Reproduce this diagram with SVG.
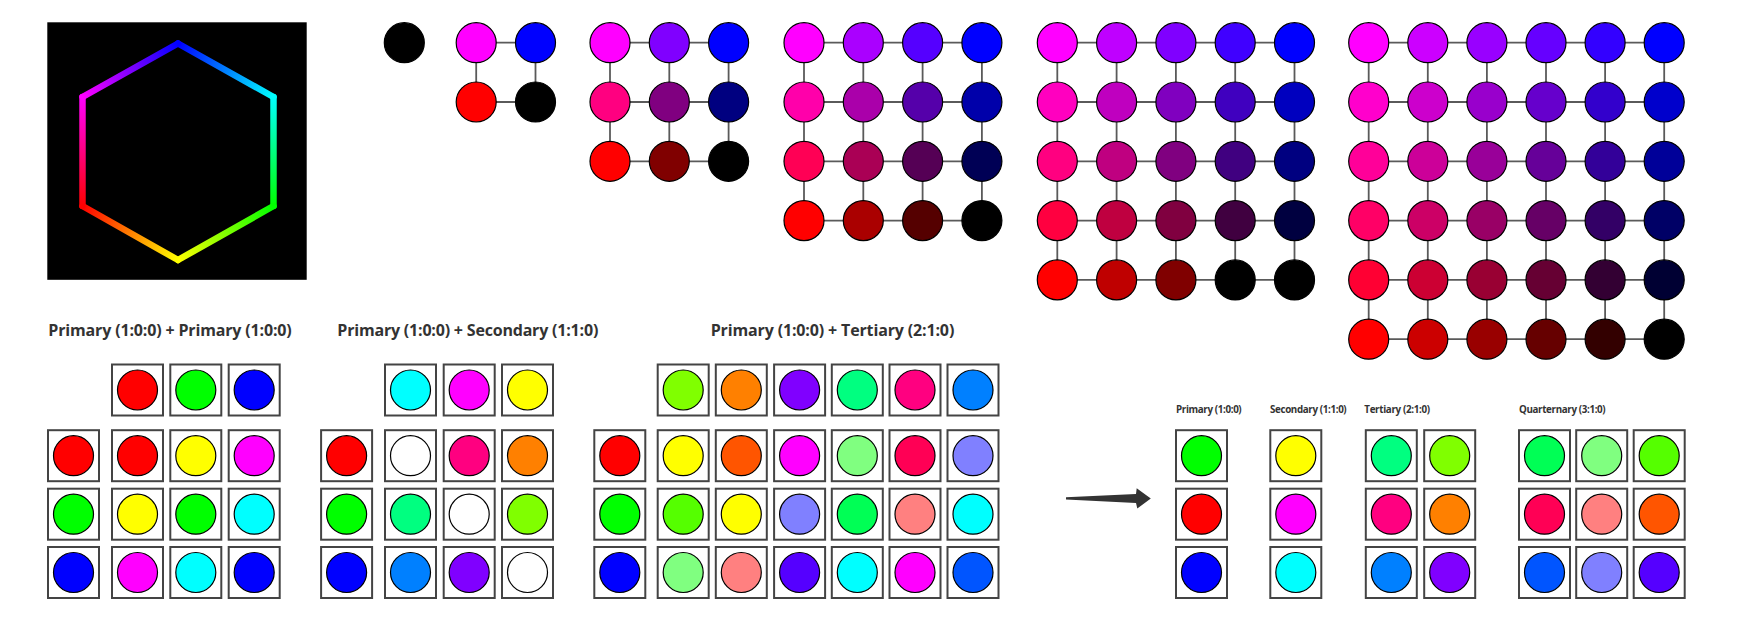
<svg xmlns="http://www.w3.org/2000/svg" width="1741" height="617" viewBox="0 0 1741 617">
<style>
.n{stroke:#000;stroke-width:1.2}
.e{stroke:#5a5a5a;stroke-width:1.8;fill:none}
.box{fill:#fff;stroke:#444;stroke-width:2}
.t{font-family:"Open Sans","Noto Sans","DejaVu Sans",sans-serif;font-weight:bold;fill:#333}
.tt{font-size:16px}
.ts{font-size:9.8px}
.hx{stroke-width:6.5;stroke-linecap:round;fill:none}
</style>
<defs>
<linearGradient id="h1" gradientUnits="userSpaceOnUse" x1="178" y1="43.5" x2="273.5" y2="97"><stop offset="0" stop-color="#00f"/><stop offset="1" stop-color="#0ff"/></linearGradient>
<linearGradient id="h2" gradientUnits="userSpaceOnUse" x1="273.5" y1="97" x2="273.5" y2="206"><stop offset="0" stop-color="#0ff"/><stop offset="1" stop-color="#0f0"/></linearGradient>
<linearGradient id="h3" gradientUnits="userSpaceOnUse" x1="273.5" y1="206" x2="178" y2="260"><stop offset="0" stop-color="#0f0"/><stop offset="1" stop-color="#ff0"/></linearGradient>
<linearGradient id="h4" gradientUnits="userSpaceOnUse" x1="178" y1="260" x2="82.5" y2="206"><stop offset="0" stop-color="#ff0"/><stop offset="1" stop-color="#f00"/></linearGradient>
<linearGradient id="h5" gradientUnits="userSpaceOnUse" x1="82.5" y1="206" x2="82.5" y2="97"><stop offset="0" stop-color="#f00"/><stop offset="1" stop-color="#f0f"/></linearGradient>
<linearGradient id="h6" gradientUnits="userSpaceOnUse" x1="82.5" y1="97" x2="178" y2="43.5"><stop offset="0" stop-color="#f0f"/><stop offset="1" stop-color="#00f"/></linearGradient>
<g id="bx"><rect class="box" x="-25.5" y="-25.5" width="51" height="51"/></g>
</defs>

<g id="hexagon">
<rect x="47.3" y="22.3" width="259.4" height="257.5" fill="#000"/>
<line class="hx" x1="178" y1="43.5" x2="273.5" y2="97" stroke="url(#h1)"/>
<line class="hx" x1="273.5" y1="97" x2="273.5" y2="206" stroke="url(#h2)"/>
<line class="hx" x1="273.5" y1="206" x2="178" y2="260" stroke="url(#h3)"/>
<line class="hx" x1="178" y1="260" x2="82.5" y2="206" stroke="url(#h4)"/>
<line class="hx" x1="82.5" y1="206" x2="82.5" y2="97" stroke="url(#h5)"/>
<line class="hx" x1="82.5" y1="97" x2="178" y2="43.5" stroke="url(#h6)"/>
</g>

<g id="connectors">
<line class="e" x1="476.2" y1="42.7" x2="535.5" y2="42.7"/>
<line class="e" x1="476.2" y1="102" x2="535.5" y2="102"/>
<line class="e" x1="476.2" y1="42.7" x2="476.2" y2="102"/>
<line class="e" x1="535.5" y1="42.7" x2="535.5" y2="102"/>
<line class="e" x1="610" y1="42.7" x2="728.6" y2="42.7"/>
<line class="e" x1="610" y1="102" x2="728.6" y2="102"/>
<line class="e" x1="610" y1="161.3" x2="728.6" y2="161.3"/>
<line class="e" x1="610" y1="42.7" x2="610" y2="161.3"/>
<line class="e" x1="669.3" y1="42.7" x2="669.3" y2="161.3"/>
<line class="e" x1="728.6" y1="42.7" x2="728.6" y2="161.3"/>
<line class="e" x1="804" y1="42.7" x2="981.9" y2="42.7"/>
<line class="e" x1="804" y1="102" x2="981.9" y2="102"/>
<line class="e" x1="804" y1="161.3" x2="981.9" y2="161.3"/>
<line class="e" x1="804" y1="220.6" x2="981.9" y2="220.6"/>
<line class="e" x1="804" y1="42.7" x2="804" y2="220.6"/>
<line class="e" x1="863.3" y1="42.7" x2="863.3" y2="220.6"/>
<line class="e" x1="922.6" y1="42.7" x2="922.6" y2="220.6"/>
<line class="e" x1="981.9" y1="42.7" x2="981.9" y2="220.6"/>
<line class="e" x1="1057.3" y1="42.7" x2="1294.5" y2="42.7"/>
<line class="e" x1="1057.3" y1="102" x2="1294.5" y2="102"/>
<line class="e" x1="1057.3" y1="161.3" x2="1294.5" y2="161.3"/>
<line class="e" x1="1057.3" y1="220.6" x2="1294.5" y2="220.6"/>
<line class="e" x1="1057.3" y1="279.9" x2="1294.5" y2="279.9"/>
<line class="e" x1="1057.3" y1="42.7" x2="1057.3" y2="279.9"/>
<line class="e" x1="1116.6" y1="42.7" x2="1116.6" y2="279.9"/>
<line class="e" x1="1175.9" y1="42.7" x2="1175.9" y2="279.9"/>
<line class="e" x1="1235.2" y1="42.7" x2="1235.2" y2="279.9"/>
<line class="e" x1="1294.5" y1="42.7" x2="1294.5" y2="279.9"/>
<line class="e" x1="1368.7" y1="42.7" x2="1664.2" y2="42.7"/>
<line class="e" x1="1368.7" y1="102" x2="1664.2" y2="102"/>
<line class="e" x1="1368.7" y1="161.3" x2="1664.2" y2="161.3"/>
<line class="e" x1="1368.7" y1="220.6" x2="1664.2" y2="220.6"/>
<line class="e" x1="1368.7" y1="279.9" x2="1664.2" y2="279.9"/>
<line class="e" x1="1368.7" y1="339.2" x2="1664.2" y2="339.2"/>
<line class="e" x1="1368.7" y1="42.7" x2="1368.7" y2="339.2"/>
<line class="e" x1="1427.8" y1="42.7" x2="1427.8" y2="339.2"/>
<line class="e" x1="1486.9" y1="42.7" x2="1486.9" y2="339.2"/>
<line class="e" x1="1546" y1="42.7" x2="1546" y2="339.2"/>
<line class="e" x1="1605.1" y1="42.7" x2="1605.1" y2="339.2"/>
<line class="e" x1="1664.2" y1="42.7" x2="1664.2" y2="339.2"/>
<polygon points="1066,497.3 1136,494 1136.7,488.2 1150.8,498.4 1137.3,508.5 1136,503 1066,499.6" fill="#333"/>
</g>

<g id="grid1"><circle class="n" cx="404.3" cy="42.7" r="20" fill="#000"/></g>

<g id="grid2">
<circle class="n" cx="476.2" cy="42.7" r="20" fill="#f0f"/>
<circle class="n" cx="535.5" cy="42.7" r="20" fill="#00f"/>
<circle class="n" cx="476.2" cy="102" r="20" fill="#f00"/>
<circle class="n" cx="535.5" cy="102" r="20" fill="#000"/>
</g>

<g id="grid3">
<circle class="n" cx="610" cy="42.7" r="20" fill="#ff00ff"/>
<circle class="n" cx="669.3" cy="42.7" r="20" fill="#8000ff"/>
<circle class="n" cx="728.6" cy="42.7" r="20" fill="#0000ff"/>
<circle class="n" cx="610" cy="102" r="20" fill="#ff0080"/>
<circle class="n" cx="669.3" cy="102" r="20" fill="#800080"/>
<circle class="n" cx="728.6" cy="102" r="20" fill="#000080"/>
<circle class="n" cx="610" cy="161.3" r="20" fill="#ff0000"/>
<circle class="n" cx="669.3" cy="161.3" r="20" fill="#800000"/>
<circle class="n" cx="728.6" cy="161.3" r="20" fill="#000000"/>
</g>

<g id="grid4">
<circle class="n" cx="804" cy="42.7" r="20" fill="#ff00ff"/>
<circle class="n" cx="863.3" cy="42.7" r="20" fill="#aa00ff"/>
<circle class="n" cx="922.6" cy="42.7" r="20" fill="#5500ff"/>
<circle class="n" cx="981.9" cy="42.7" r="20" fill="#0000ff"/>
<circle class="n" cx="804" cy="102" r="20" fill="#ff00aa"/>
<circle class="n" cx="863.3" cy="102" r="20" fill="#aa00aa"/>
<circle class="n" cx="922.6" cy="102" r="20" fill="#5500aa"/>
<circle class="n" cx="981.9" cy="102" r="20" fill="#0000aa"/>
<circle class="n" cx="804" cy="161.3" r="20" fill="#ff0055"/>
<circle class="n" cx="863.3" cy="161.3" r="20" fill="#aa0055"/>
<circle class="n" cx="922.6" cy="161.3" r="20" fill="#550055"/>
<circle class="n" cx="981.9" cy="161.3" r="20" fill="#000055"/>
<circle class="n" cx="804" cy="220.6" r="20" fill="#ff0000"/>
<circle class="n" cx="863.3" cy="220.6" r="20" fill="#aa0000"/>
<circle class="n" cx="922.6" cy="220.6" r="20" fill="#550000"/>
<circle class="n" cx="981.9" cy="220.6" r="20" fill="#000000"/>
</g>

<g id="grid5">
<circle class="n" cx="1057.3" cy="42.7" r="20" fill="#ff00ff"/>
<circle class="n" cx="1116.6" cy="42.7" r="20" fill="#bf00ff"/>
<circle class="n" cx="1175.9" cy="42.7" r="20" fill="#8000ff"/>
<circle class="n" cx="1235.2" cy="42.7" r="20" fill="#4000ff"/>
<circle class="n" cx="1294.5" cy="42.7" r="20" fill="#0000ff"/>
<circle class="n" cx="1057.3" cy="102" r="20" fill="#ff00bf"/>
<circle class="n" cx="1116.6" cy="102" r="20" fill="#bf00bf"/>
<circle class="n" cx="1175.9" cy="102" r="20" fill="#8000bf"/>
<circle class="n" cx="1235.2" cy="102" r="20" fill="#4000bf"/>
<circle class="n" cx="1294.5" cy="102" r="20" fill="#0000bf"/>
<circle class="n" cx="1057.3" cy="161.3" r="20" fill="#ff0080"/>
<circle class="n" cx="1116.6" cy="161.3" r="20" fill="#bf0080"/>
<circle class="n" cx="1175.9" cy="161.3" r="20" fill="#800080"/>
<circle class="n" cx="1235.2" cy="161.3" r="20" fill="#400080"/>
<circle class="n" cx="1294.5" cy="161.3" r="20" fill="#000080"/>
<circle class="n" cx="1057.3" cy="220.6" r="20" fill="#ff0040"/>
<circle class="n" cx="1116.6" cy="220.6" r="20" fill="#bf0040"/>
<circle class="n" cx="1175.9" cy="220.6" r="20" fill="#800040"/>
<circle class="n" cx="1235.2" cy="220.6" r="20" fill="#400040"/>
<circle class="n" cx="1294.5" cy="220.6" r="20" fill="#000040"/>
<circle class="n" cx="1057.3" cy="279.9" r="20" fill="#ff0000"/>
<circle class="n" cx="1116.6" cy="279.9" r="20" fill="#bf0000"/>
<circle class="n" cx="1175.9" cy="279.9" r="20" fill="#800000"/>
<circle class="n" cx="1235.2" cy="279.9" r="20" fill="#000000"/>
<circle class="n" cx="1294.5" cy="279.9" r="20" fill="#000000"/>
</g>

<g id="grid6">
<circle class="n" cx="1368.7" cy="42.7" r="20" fill="#ff00ff"/>
<circle class="n" cx="1427.8" cy="42.7" r="20" fill="#cc00ff"/>
<circle class="n" cx="1486.9" cy="42.7" r="20" fill="#9900ff"/>
<circle class="n" cx="1546" cy="42.7" r="20" fill="#6600ff"/>
<circle class="n" cx="1605.1" cy="42.7" r="20" fill="#3300ff"/>
<circle class="n" cx="1664.2" cy="42.7" r="20" fill="#0000ff"/>
<circle class="n" cx="1368.7" cy="102" r="20" fill="#ff00cc"/>
<circle class="n" cx="1427.8" cy="102" r="20" fill="#cc00cc"/>
<circle class="n" cx="1486.9" cy="102" r="20" fill="#9900cc"/>
<circle class="n" cx="1546" cy="102" r="20" fill="#6600cc"/>
<circle class="n" cx="1605.1" cy="102" r="20" fill="#3300cc"/>
<circle class="n" cx="1664.2" cy="102" r="20" fill="#0000cc"/>
<circle class="n" cx="1368.7" cy="161.3" r="20" fill="#ff0099"/>
<circle class="n" cx="1427.8" cy="161.3" r="20" fill="#cc0099"/>
<circle class="n" cx="1486.9" cy="161.3" r="20" fill="#990099"/>
<circle class="n" cx="1546" cy="161.3" r="20" fill="#660099"/>
<circle class="n" cx="1605.1" cy="161.3" r="20" fill="#330099"/>
<circle class="n" cx="1664.2" cy="161.3" r="20" fill="#000099"/>
<circle class="n" cx="1368.7" cy="220.6" r="20" fill="#ff0066"/>
<circle class="n" cx="1427.8" cy="220.6" r="20" fill="#cc0066"/>
<circle class="n" cx="1486.9" cy="220.6" r="20" fill="#990066"/>
<circle class="n" cx="1546" cy="220.6" r="20" fill="#660066"/>
<circle class="n" cx="1605.1" cy="220.6" r="20" fill="#330066"/>
<circle class="n" cx="1664.2" cy="220.6" r="20" fill="#000066"/>
<circle class="n" cx="1368.7" cy="279.9" r="20" fill="#ff0033"/>
<circle class="n" cx="1427.8" cy="279.9" r="20" fill="#cc0033"/>
<circle class="n" cx="1486.9" cy="279.9" r="20" fill="#990033"/>
<circle class="n" cx="1546" cy="279.9" r="20" fill="#660033"/>
<circle class="n" cx="1605.1" cy="279.9" r="20" fill="#330033"/>
<circle class="n" cx="1664.2" cy="279.9" r="20" fill="#000033"/>
<circle class="n" cx="1368.7" cy="339.2" r="20" fill="#ff0000"/>
<circle class="n" cx="1427.8" cy="339.2" r="20" fill="#cc0000"/>
<circle class="n" cx="1486.9" cy="339.2" r="20" fill="#990000"/>
<circle class="n" cx="1546" cy="339.2" r="20" fill="#660000"/>
<circle class="n" cx="1605.1" cy="339.2" r="20" fill="#330000"/>
<circle class="n" cx="1664.2" cy="339.2" r="20" fill="#000000"/>
</g>

<g id="labels">
<text class="t tt" x="48.3" y="336" textLength="243.4">Primary (1:0:0) + Primary (1:0:0)</text>
<text class="t tt" x="337.3" y="336" textLength="261">Primary (1:0:0) + Secondary (1:1:0)</text>
<text class="t tt" x="710.7" y="336" textLength="243.6">Primary (1:0:0) + Tertiary (2:1:0)</text>
<text class="t ts" x="1176" y="412.7" textLength="65.7">Primary (1:0:0)</text>
<text class="t ts" x="1270" y="412.7" textLength="76.7">Secondary (1:1:0)</text>
<text class="t ts" x="1364.3" y="412.7" textLength="65.7">Tertiary (2:1:0)</text>
<text class="t ts" x="1519" y="412.7" textLength="86.7">Quarternary (3:1:0)</text>
</g>

<g id="mix1">
<g id="m1-h0" transform="translate(137.5,390)"><use href="#bx"/><circle class="n" r="20" fill="#f00"/></g>
<g id="m1-h1" transform="translate(195.8,390)"><use href="#bx"/><circle class="n" r="20" fill="#0f0"/></g>
<g id="m1-h2" transform="translate(254.2,390)"><use href="#bx"/><circle class="n" r="20" fill="#00f"/></g>
<g id="m1-l0" transform="translate(73.5,455.7)"><use href="#bx"/><circle class="n" r="20" fill="#f00"/></g>
<g id="m1-l1" transform="translate(73.5,514.2)"><use href="#bx"/><circle class="n" r="20" fill="#0f0"/></g>
<g id="m1-l2" transform="translate(73.5,572.5)"><use href="#bx"/><circle class="n" r="20" fill="#00f"/></g>
<g id="m1-00" transform="translate(137.5,455.7)"><use href="#bx"/><circle class="n" r="20" fill="#f00"/></g>
<g id="m1-01" transform="translate(195.8,455.7)"><use href="#bx"/><circle class="n" r="20" fill="#ff0"/></g>
<g id="m1-02" transform="translate(254.2,455.7)"><use href="#bx"/><circle class="n" r="20" fill="#f0f"/></g>
<g id="m1-10" transform="translate(137.5,514.2)"><use href="#bx"/><circle class="n" r="20" fill="#ff0"/></g>
<g id="m1-11" transform="translate(195.8,514.2)"><use href="#bx"/><circle class="n" r="20" fill="#0f0"/></g>
<g id="m1-12" transform="translate(254.2,514.2)"><use href="#bx"/><circle class="n" r="20" fill="#0ff"/></g>
<g id="m1-20" transform="translate(137.5,572.5)"><use href="#bx"/><circle class="n" r="20" fill="#f0f"/></g>
<g id="m1-21" transform="translate(195.8,572.5)"><use href="#bx"/><circle class="n" r="20" fill="#0ff"/></g>
<g id="m1-22" transform="translate(254.2,572.5)"><use href="#bx"/><circle class="n" r="20" fill="#00f"/></g>
</g>

<g id="mix2">
<g id="m2-h0" transform="translate(410.5,390)"><use href="#bx"/><circle class="n" r="20" fill="#0ff"/></g>
<g id="m2-h1" transform="translate(469.2,390)"><use href="#bx"/><circle class="n" r="20" fill="#f0f"/></g>
<g id="m2-h2" transform="translate(527.5,390)"><use href="#bx"/><circle class="n" r="20" fill="#ff0"/></g>
<g id="m2-l0" transform="translate(346.6,455.7)"><use href="#bx"/><circle class="n" r="20" fill="#f00"/></g>
<g id="m2-l1" transform="translate(346.6,514.2)"><use href="#bx"/><circle class="n" r="20" fill="#0f0"/></g>
<g id="m2-l2" transform="translate(346.6,572.5)"><use href="#bx"/><circle class="n" r="20" fill="#00f"/></g>
<g id="m2-00" transform="translate(410.5,455.7)"><use href="#bx"/><circle class="n" r="20" fill="#fff"/></g>
<g id="m2-01" transform="translate(469.2,455.7)"><use href="#bx"/><circle class="n" r="20" fill="#ff0080"/></g>
<g id="m2-02" transform="translate(527.5,455.7)"><use href="#bx"/><circle class="n" r="20" fill="#ff8000"/></g>
<g id="m2-10" transform="translate(410.5,514.2)"><use href="#bx"/><circle class="n" r="20" fill="#00ff80"/></g>
<g id="m2-11" transform="translate(469.2,514.2)"><use href="#bx"/><circle class="n" r="20" fill="#fff"/></g>
<g id="m2-12" transform="translate(527.5,514.2)"><use href="#bx"/><circle class="n" r="20" fill="#80ff00"/></g>
<g id="m2-20" transform="translate(410.5,572.5)"><use href="#bx"/><circle class="n" r="20" fill="#0080ff"/></g>
<g id="m2-21" transform="translate(469.2,572.5)"><use href="#bx"/><circle class="n" r="20" fill="#8000ff"/></g>
<g id="m2-22" transform="translate(527.5,572.5)"><use href="#bx"/><circle class="n" r="20" fill="#fff"/></g>
</g>

<g id="mix3">
<g id="m3-h0" transform="translate(683.2,390)"><use href="#bx"/><circle class="n" r="20" fill="#80ff00"/></g>
<g id="m3-h1" transform="translate(741.3,390)"><use href="#bx"/><circle class="n" r="20" fill="#ff8000"/></g>
<g id="m3-h2" transform="translate(799.6,390)"><use href="#bx"/><circle class="n" r="20" fill="#8000ff"/></g>
<g id="m3-h3" transform="translate(857.3,390)"><use href="#bx"/><circle class="n" r="20" fill="#00ff80"/></g>
<g id="m3-h4" transform="translate(915,390)"><use href="#bx"/><circle class="n" r="20" fill="#ff0080"/></g>
<g id="m3-h5" transform="translate(973,390)"><use href="#bx"/><circle class="n" r="20" fill="#0080ff"/></g>
<g id="m3-l0" transform="translate(619.8,455.7)"><use href="#bx"/><circle class="n" r="20" fill="#f00"/></g>
<g id="m3-l1" transform="translate(619.8,514.2)"><use href="#bx"/><circle class="n" r="20" fill="#0f0"/></g>
<g id="m3-l2" transform="translate(619.8,572.5)"><use href="#bx"/><circle class="n" r="20" fill="#00f"/></g>
<g id="m3-00" transform="translate(683.2,455.7)"><use href="#bx"/><circle class="n" r="20" fill="#ffff00"/></g>
<g id="m3-01" transform="translate(741.3,455.7)"><use href="#bx"/><circle class="n" r="20" fill="#ff5500"/></g>
<g id="m3-02" transform="translate(799.6,455.7)"><use href="#bx"/><circle class="n" r="20" fill="#ff00ff"/></g>
<g id="m3-03" transform="translate(857.3,455.7)"><use href="#bx"/><circle class="n" r="20" fill="#80ff80"/></g>
<g id="m3-04" transform="translate(915,455.7)"><use href="#bx"/><circle class="n" r="20" fill="#ff0055"/></g>
<g id="m3-05" transform="translate(973,455.7)"><use href="#bx"/><circle class="n" r="20" fill="#8080ff"/></g>
<g id="m3-10" transform="translate(683.2,514.2)"><use href="#bx"/><circle class="n" r="20" fill="#55ff00"/></g>
<g id="m3-11" transform="translate(741.3,514.2)"><use href="#bx"/><circle class="n" r="20" fill="#ffff00"/></g>
<g id="m3-12" transform="translate(799.6,514.2)"><use href="#bx"/><circle class="n" r="20" fill="#8080ff"/></g>
<g id="m3-13" transform="translate(857.3,514.2)"><use href="#bx"/><circle class="n" r="20" fill="#00ff55"/></g>
<g id="m3-14" transform="translate(915,514.2)"><use href="#bx"/><circle class="n" r="20" fill="#ff8080"/></g>
<g id="m3-15" transform="translate(973,514.2)"><use href="#bx"/><circle class="n" r="20" fill="#00ffff"/></g>
<g id="m3-20" transform="translate(683.2,572.5)"><use href="#bx"/><circle class="n" r="20" fill="#80ff80"/></g>
<g id="m3-21" transform="translate(741.3,572.5)"><use href="#bx"/><circle class="n" r="20" fill="#ff8080"/></g>
<g id="m3-22" transform="translate(799.6,572.5)"><use href="#bx"/><circle class="n" r="20" fill="#5500ff"/></g>
<g id="m3-23" transform="translate(857.3,572.5)"><use href="#bx"/><circle class="n" r="20" fill="#00ffff"/></g>
<g id="m3-24" transform="translate(915,572.5)"><use href="#bx"/><circle class="n" r="20" fill="#ff00ff"/></g>
<g id="m3-25" transform="translate(973,572.5)"><use href="#bx"/><circle class="n" r="20" fill="#0055ff"/></g>
</g>

<g id="primary">
<g id="p0" transform="translate(1201.5,455.7)"><use href="#bx"/><circle class="n" r="20" fill="#0f0"/></g>
<g id="p1" transform="translate(1201.5,514.2)"><use href="#bx"/><circle class="n" r="20" fill="#f00"/></g>
<g id="p2" transform="translate(1201.5,572.5)"><use href="#bx"/><circle class="n" r="20" fill="#00f"/></g>
</g>
<g id="secondary">
<g id="s0" transform="translate(1295.8,455.7)"><use href="#bx"/><circle class="n" r="20" fill="#ff0"/></g>
<g id="s1" transform="translate(1295.8,514.2)"><use href="#bx"/><circle class="n" r="20" fill="#f0f"/></g>
<g id="s2" transform="translate(1295.8,572.5)"><use href="#bx"/><circle class="n" r="20" fill="#0ff"/></g>
</g>
<g id="tertiary">
<g id="t00" transform="translate(1391.3,455.7)"><use href="#bx"/><circle class="n" r="20" fill="#00ff80"/></g>
<g id="t01" transform="translate(1449.7,455.7)"><use href="#bx"/><circle class="n" r="20" fill="#80ff00"/></g>
<g id="t10" transform="translate(1391.3,514.2)"><use href="#bx"/><circle class="n" r="20" fill="#ff0080"/></g>
<g id="t11" transform="translate(1449.7,514.2)"><use href="#bx"/><circle class="n" r="20" fill="#ff8000"/></g>
<g id="t20" transform="translate(1391.3,572.5)"><use href="#bx"/><circle class="n" r="20" fill="#0080ff"/></g>
<g id="t21" transform="translate(1449.7,572.5)"><use href="#bx"/><circle class="n" r="20" fill="#8000ff"/></g>
</g>
<g id="quarternary">
<g id="q00" transform="translate(1544.5,455.7)"><use href="#bx"/><circle class="n" r="20" fill="#00ff55"/></g>
<g id="q01" transform="translate(1601.7,455.7)"><use href="#bx"/><circle class="n" r="20" fill="#80ff80"/></g>
<g id="q02" transform="translate(1659.2,455.7)"><use href="#bx"/><circle class="n" r="20" fill="#55ff00"/></g>
<g id="q10" transform="translate(1544.5,514.2)"><use href="#bx"/><circle class="n" r="20" fill="#ff0055"/></g>
<g id="q11" transform="translate(1601.7,514.2)"><use href="#bx"/><circle class="n" r="20" fill="#ff8080"/></g>
<g id="q12" transform="translate(1659.2,514.2)"><use href="#bx"/><circle class="n" r="20" fill="#ff5500"/></g>
<g id="q20" transform="translate(1544.5,572.5)"><use href="#bx"/><circle class="n" r="20" fill="#0055ff"/></g>
<g id="q21" transform="translate(1601.7,572.5)"><use href="#bx"/><circle class="n" r="20" fill="#8080ff"/></g>
<g id="q22" transform="translate(1659.2,572.5)"><use href="#bx"/><circle class="n" r="20" fill="#5500ff"/></g>
</g>
</svg>
